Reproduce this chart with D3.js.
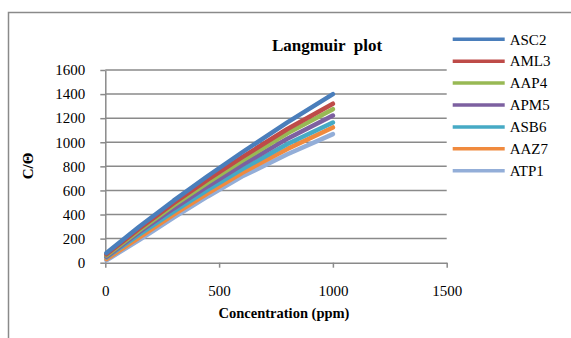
<!DOCTYPE html>
<html>
<head>
  <meta charset="utf-8" />
  <title>Langmuir plot</title>
  <style>
    body { margin: 0; background: #fff; }
    .grid line { stroke: #8a8a8a; stroke-width: 1.5px; }
    .axis path, .axis line { stroke: #8a8a8a; stroke-width: 1.5px; fill: none; }
    .series { fill: none; stroke-width: 4.5px; stroke-linecap: round; stroke-linejoin: round; }
  </style>
  <script src="https://cdnjs.cloudflare.com/ajax/libs/d3/7.8.5/d3.min.js"></script>
</head>
<body>
  <div id="chartArea"></div>
  <script>
    var FONT = '"Liberation Serif", "Times New Roman", serif';

    // concentration (ppm)
    var conc = [5, 150, 300, 450, 600, 800, 1000];

    var seriesNames = ['ASC2', 'AML3', 'AAP4', 'APM5', 'ASB6', 'AAZ7', 'ATP1'];
    var seriesColors = ['#4a7ebb', '#be4b48', '#98b954', '#7d60a0', '#46aac5', '#f08a3e', '#93aed8'];

    // C/theta values per series
    var ASC2 = [80, 300, 515, 720, 915, 1165, 1400];
    var AML3 = [70, 285, 495, 690, 875, 1110, 1320];
    var AAP4 = [60, 270, 475, 665, 845, 1075, 1275];
    var APM5 = [50, 255, 450, 635, 810, 1030, 1222];
    var ASB6 = [45, 235, 425, 605, 775, 985, 1164];
    var AAZ7 = [30, 210, 400, 575, 745, 945, 1123];
    var ATP1 = [20, 190, 375, 550, 715, 900, 1068];
    var seriesValues = [ASC2, AML3, AAP4, APM5, ASB6, AAZ7, ATP1];

    var xTicks = [0, 500, 1000, 1500];
    var yTicks = [0, 200, 400, 600, 800, 1000, 1200, 1400, 1600];

    var W = 571, H = 338;
    var plot = { left: 105.3, right: 446.7, top: 70, bottom: 262.7 };

    var svg = d3.select('#chartArea').append('svg')
      .attr('width', W)
      .attr('height', H);

    // outer frame (cut off at right and bottom)
    svg.append('rect')
      .attr('x', 8.5).attr('y', 12.5)
      .attr('width', 700).attr('height', 500)
      .attr('fill', 'none')
      .attr('stroke', '#8a8a8a')
      .attr('stroke-width', 1.5);

    var xScale = d3.scaleLinear().domain([0, 1500]).range([plot.left, plot.right]);
    var yScale = d3.scaleLinear().domain([0, 1600]).range([plot.bottom, plot.top]);

    // horizontal gridlines
    svg.append('g').attr('class', 'grid')
      .selectAll('line')
      .data(yTicks.filter(d => d > 0))
      .enter().append('line')
      .attr('x1', plot.left).attr('x2', plot.right)
      .attr('y1', d => yScale(d)).attr('y2', d => yScale(d));

    var yAxis = d3.axisLeft(yScale)
      .tickValues(yTicks)
      .tickFormat(d3.format('d'))
      .tickSizeInner(5)
      .tickSizeOuter(0)
      .tickPadding(15);
    svg.append('g')
      .attr('class', 'axis')
      .attr('transform', 'translate(' + plot.left + ',0)')
      .call(yAxis);

    var xAxis = d3.axisBottom(xScale)
      .tickValues(xTicks)
      .tickFormat(d3.format('d'))
      .tickSizeInner(5)
      .tickSizeOuter(0)
      .tickPadding(18);
    svg.append('g')
      .attr('class', 'axis')
      .attr('transform', 'translate(0,' + plot.bottom + ')')
      .call(xAxis);

    svg.selectAll('.axis')
      .attr('font-family', FONT)
      .attr('font-size', 15);
    svg.selectAll('.axis text').attr('fill', '#000');

    var line = d3.line()
      .x((d, i) => xScale(conc[i]))
      .y(d => yScale(d));

    // draw last series first so ASC2 sits on top
    svg.append('g').selectAll('path')
      .data(seriesValues.map((v, i) => ({ name: seriesNames[i], values: v, color: seriesColors[i] })).reverse())
      .enter().append('path')
      .attr('class', 'series')
      .attr('stroke', d => d.color)
      .attr('d', d => line(d.values));

    // title
    svg.append('text')
      .attr('x', 327).attr('y', 51)
      .attr('text-anchor', 'middle')
      .attr('font-family', FONT)
      .attr('font-size', 17)
      .attr('font-weight', 'bold')
      .style('white-space', 'pre')
      .text('Langmuir  plot');

    // axis titles
    svg.append('text')
      .attr('x', 284).attr('y', 318)
      .attr('text-anchor', 'middle')
      .attr('font-family', FONT)
      .attr('font-size', 14.5)
      .attr('font-weight', 'bold')
      .text('Concentration (ppm)');

    svg.append('text')
      .attr('transform', 'translate(33,166) rotate(-90)')
      .attr('text-anchor', 'middle')
      .attr('font-family', FONT)
      .attr('font-size', 15)
      .attr('font-weight', 'bold')
      .text('C/Θ');

    // legend
    var legend = svg.append('g').selectAll('g')
      .data(seriesNames)
      .enter().append('g')
      .attr('transform', (d, i) => 'translate(452.7,' + (39.3 + i * 21.9) + ')');
    legend.append('line')
      .attr('x1', 0).attr('x2', 52)
      .attr('stroke', (d, i) => seriesColors[i])
      .attr('stroke-width', 3.5);
    legend.append('text')
      .attr('x', 57).attr('y', 5.2)
      .attr('font-family', FONT)
      .attr('font-size', 15)
      .text(d => d);
  </script>
</body>
</html>
